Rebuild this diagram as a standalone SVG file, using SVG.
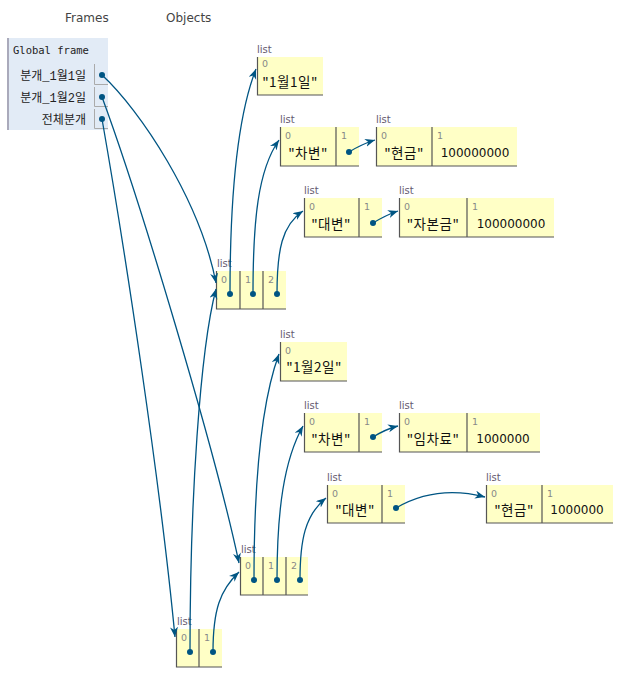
<svg xmlns="http://www.w3.org/2000/svg" width="622" height="677" viewBox="0 0 622 677">
<style>
.hdr{font-family:"DejaVu Sans",Verdana,sans-serif;font-size:12px;fill:#444}
.gf{font-family:"DejaVu Sans Mono","Liberation Mono",monospace;font-size:10.5px;fill:#222}
.vn{font-family:"Liberation Mono","Noto Sans CJK KR",monospace;font-size:12px;fill:#222;text-anchor:end}
.cell{fill:#ffffc6}
.bd{stroke:#555;stroke-width:1.2;fill:none}
.vb{stroke:#aaa;stroke-width:1;fill:none}
.tl{font-family:"DejaVu Sans",Verdana,sans-serif;font-size:10px;fill:#665a70}
.ix{font-family:"DejaVu Sans",Verdana,sans-serif;font-size:9.5px;fill:#888}
.sv{font-family:"Noto Sans CJK KR",sans-serif;font-size:13.5px;fill:#111;text-anchor:middle;letter-spacing:0.5px}
.nv{font-family:"DejaVu Sans",Verdana,sans-serif;font-size:12px;fill:#111;text-anchor:middle}
.dot{fill:#005583}
.cn{stroke:#005583;stroke-width:1.3;fill:none;marker-end:url(#ah)}
</style>
<defs>
<marker id="ah" markerUnits="userSpaceOnUse" markerWidth="11" markerHeight="9" refX="10" refY="4" orient="auto">
<path d="M0,0 L10,4 L0,8 L3,4 Z" fill="#005583"/>
</marker>
</defs>
<rect width="622" height="677" fill="#fff"/>
<text class="hdr" x="65" y="22">Frames</text>
<text class="hdr" x="166" y="22">Objects</text>

<g id="global-frame">
<rect x="7" y="38" width="101" height="92" fill="#e2ebf6"/>
<line x1="8" y1="38" x2="8" y2="130" stroke="#aab" stroke-width="2"/>
<text class="gf" x="13" y="54">Global frame</text>
<text class="vn" x="86" y="80">분개_1월1일</text>
<text class="vn" x="86" y="102">분개_1월2일</text>
<text class="vn" x="86" y="124">전체분개</text>
<path class="vb" d="M94.5,64 V84.5 H108 M94.5,87 V106.5 H108 M94.5,109 V128.5 H108"/>
<circle class="dot" cx="102" cy="75" r="3"/>
<circle class="dot" cx="102" cy="97" r="3"/>
<circle class="dot" cx="102" cy="119" r="3"/>
</g>

<g id="list-A">
<text class="tl" x="257" y="53">list</text>
<rect class="cell" x="257" y="57" width="66" height="38"/>
<path class="bd" d="M257.5,57 V95 H323"/>
<text class="ix" x="262" y="67">0</text>
<text class="sv" x="290" y="87">"1월1일"</text>
</g>

<g id="list-B">
<text class="tl" x="280" y="123">list</text>
<rect class="cell" x="280" y="127" width="79" height="39"/>
<path class="bd" d="M280.5,127 V166 H359 M336,127 V166"/>
<text class="ix" x="285" y="139">0</text>
<text class="ix" x="341" y="139">1</text>
<text class="sv" x="308" y="158">"차변"</text>
<circle class="dot" cx="349" cy="152" r="3"/>
</g>

<g id="list-C">
<text class="tl" x="376" y="123">list</text>
<rect class="cell" x="376" y="127" width="141" height="39"/>
<path class="bd" d="M376.5,127 V166 H517 M432,127 V166"/>
<text class="ix" x="381" y="139">0</text>
<text class="ix" x="437" y="139">1</text>
<text class="sv" x="404" y="158">"현금"</text>
<text class="nv" x="475" y="157">100000000</text>
</g>

<g id="list-D">
<text class="tl" x="304" y="194">list</text>
<rect class="cell" x="304" y="198" width="78" height="39"/>
<path class="bd" d="M304.5,198 V237 H382 M359,198 V237"/>
<text class="ix" x="309" y="210">0</text>
<text class="ix" x="364" y="210">1</text>
<text class="sv" x="331" y="229">"대변"</text>
<circle class="dot" cx="373" cy="223" r="3"/>
</g>

<g id="list-E">
<text class="tl" x="399" y="194">list</text>
<rect class="cell" x="399" y="198" width="155" height="39"/>
<path class="bd" d="M399.5,198 V237 H554 M467,198 V237"/>
<text class="ix" x="404" y="210">0</text>
<text class="ix" x="472" y="210">1</text>
<text class="sv" x="433" y="229">"자본금"</text>
<text class="nv" x="511" y="228">100000000</text>
</g>

<g id="list-F">
<text class="tl" x="217" y="267">list</text>
<rect class="cell" x="216" y="271" width="70" height="38"/>
<path class="bd" d="M216.5,271 V309 H286 M240,271 V309 M263,271 V309"/>
<text class="ix" x="221" y="283">0</text>
<text class="ix" x="245" y="283">1</text>
<text class="ix" x="268" y="283">2</text>
<circle class="dot" cx="230" cy="294" r="3"/>
<circle class="dot" cx="253" cy="294" r="3"/>
<circle class="dot" cx="277" cy="294" r="3"/>
</g>

<g id="list-G">
<text class="tl" x="280" y="338">list</text>
<rect class="cell" x="280" y="342" width="67" height="39"/>
<path class="bd" d="M280.5,342 V381 H347"/>
<text class="ix" x="285" y="354">0</text>
<text class="sv" x="314" y="372">"1월2일"</text>
</g>

<g id="list-H">
<text class="tl" x="304" y="409">list</text>
<rect class="cell" x="304" y="413" width="78" height="39"/>
<path class="bd" d="M304.5,413 V452 H382 M359,413 V452"/>
<text class="ix" x="309" y="425">0</text>
<text class="ix" x="364" y="425">1</text>
<text class="sv" x="331" y="444">"차변"</text>
<circle class="dot" cx="373" cy="437" r="3"/>
</g>

<g id="list-I">
<text class="tl" x="399" y="409">list</text>
<rect class="cell" x="399" y="413" width="141" height="39"/>
<path class="bd" d="M399.5,413 V452 H540 M467,413 V452"/>
<text class="ix" x="404" y="425">0</text>
<text class="ix" x="472" y="425">1</text>
<text class="sv" x="433" y="444">"임차료"</text>
<text class="nv" x="503" y="443">1000000</text>
</g>

<g id="list-J">
<text class="tl" x="327" y="481">list</text>
<rect class="cell" x="327" y="485" width="78" height="38"/>
<path class="bd" d="M327.5,485 V523 H405 M382,485 V523"/>
<text class="ix" x="332" y="497">0</text>
<text class="ix" x="387" y="497">1</text>
<text class="sv" x="355" y="515">"대변"</text>
<circle class="dot" cx="396" cy="508" r="3"/>
</g>

<g id="list-K">
<text class="tl" x="486" y="481">list</text>
<rect class="cell" x="486" y="485" width="127" height="38"/>
<path class="bd" d="M486.5,485 V523 H613 M542,485 V523"/>
<text class="ix" x="491" y="497">0</text>
<text class="ix" x="547" y="497">1</text>
<text class="sv" x="514" y="515">"현금"</text>
<text class="nv" x="577" y="514">1000000</text>
</g>

<g id="list-L">
<text class="tl" x="241" y="553">list</text>
<rect class="cell" x="240" y="557" width="68" height="38"/>
<path class="bd" d="M240.5,557 V595 H308 M263,557 V595 M286,557 V595"/>
<text class="ix" x="245" y="569">0</text>
<text class="ix" x="268" y="569">1</text>
<text class="ix" x="291" y="569">2</text>
<circle class="dot" cx="254" cy="580" r="3"/>
<circle class="dot" cx="277" cy="580" r="3"/>
<circle class="dot" cx="300" cy="580" r="3"/>
</g>

<g id="list-M">
<text class="tl" x="177" y="625">list</text>
<rect class="cell" x="176" y="629" width="46" height="38"/>
<path class="bd" d="M176.5,629 V667 H222 M199,629 V667"/>
<text class="ix" x="181" y="641">0</text>
<text class="ix" x="204" y="641">1</text>
<circle class="dot" cx="190" cy="652" r="3"/>
<circle class="dot" cx="213" cy="652" r="3"/>
</g>

<g id="connectors">
<path class="cn" d="M102,75 C140,110 200,200 216,283"/>
<path class="cn" d="M102,97 C140,200 215,450 239,563"/>
<path class="cn" d="M102,119 C125,250 160,480 175,637"/>
<path class="cn" d="M230,294 C230,200 236,120 256,69"/>
<path class="cn" d="M253,294 C253,220 258,170 279,140"/>
<path class="cn" d="M277,294 C277,250 282,225 303,211"/>
<path class="cn" d="M349,152 Q362,144 375,140"/>
<path class="cn" d="M373,223 Q386,215 398,211"/>
<path class="cn" d="M254,580 C254,480 262,400 279,354"/>
<path class="cn" d="M277,580 C277,510 284,460 303,426"/>
<path class="cn" d="M300,580 C300,540 305,515 326,498"/>
<path class="cn" d="M373,437 Q386,429 398,426"/>
<path class="cn" d="M396,508 C420,494 450,488 485,497"/>
<path class="cn" d="M190,652 C190,500 200,350 216,289"/>
<path class="cn" d="M213,652 C213,610 220,590 239,572"/>
</g>
</svg>
